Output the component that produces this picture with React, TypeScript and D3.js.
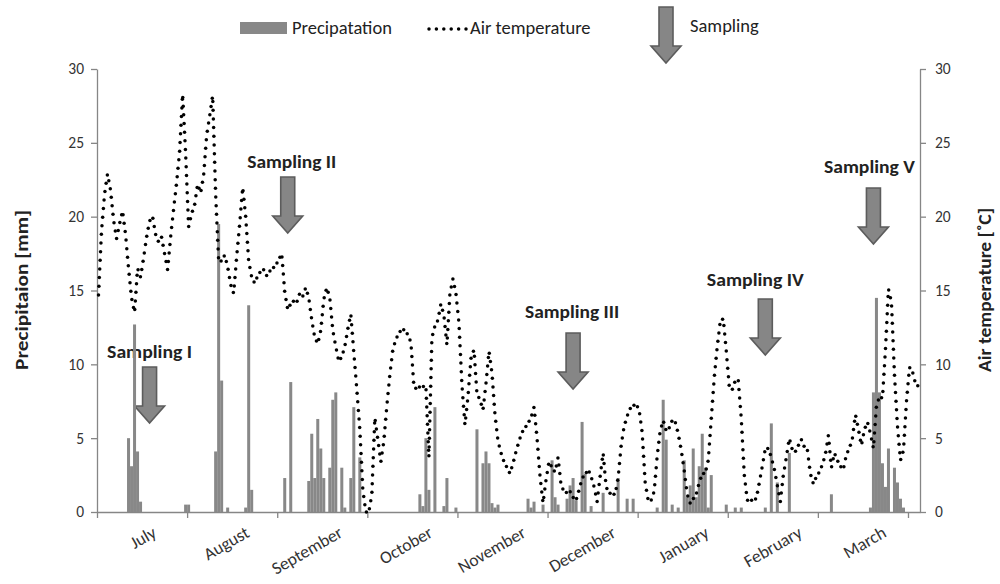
import React, { useEffect, useRef } from 'react';
import * as d3 from 'd3';

// Daily series, July -> end of March (one value per day)
const months = ['July', 'August', 'September', 'October', 'November', 'December', 'January', 'February', 'March'];
// day index of the 15th of each month, where its label sits
const monthMidDay = [14, 45, 76, 106, 137, 167, 198, 229, 257];

const airTemp = [
  14.7, 19.0, 21.5, 22.9, 21.8, 19.8, 18.5, 19.5, 20.4, 18.8,
  16.5, 14.5, 13.5, 16.5, 15.9, 17.2, 18.6, 19.7, 20.0, 18.8,
  18.3, 18.6, 17.5, 16.4, 18.6, 20.5, 22.3, 24.4, 28.3, 24.3,
  19.3, 20.2, 20.8, 22.2, 21.6, 22.8, 25.5, 26.8, 28.2, 21.5,
  17.0, 17.0, 17.4, 16.6, 15.4, 14.8, 17.3, 19.5, 22.0, 20.0,
  17.0, 15.9, 15.5, 16.0, 16.3, 16.4, 16.0, 16.3, 16.5, 16.7,
  17.1, 17.5, 14.9, 13.7, 14.1, 14.3, 14.2, 14.8, 14.6, 15.2,
  14.5, 13.0, 11.8, 11.4, 12.3, 14.4, 15.2, 14.5, 12.3, 11.2,
  10.2, 10.5, 11.2, 12.4, 13.4, 10.8, 8.3, 5.6, 1.5, 0.0,
  0.0, 1.2, 6.4, 4.9, 3.4, 4.8, 7.2, 9.3, 11.0, 11.7,
  12.1, 12.4, 12.3, 12.0, 11.5, 8.5, 8.3, 8.5, 8.5, 8.5,
  3.7, 11.8, 12.6, 13.0, 14.1, 13.3, 11.3, 14.8, 15.8, 14.8,
  12.8, 8.6, 5.9, 7.8, 10.4, 11.0, 8.0, 7.6, 6.9, 8.7,
  10.9, 9.4, 6.6, 4.8, 4.0, 3.4, 3.0, 2.6, 3.3, 4.1,
  4.8, 5.4, 5.7, 6.0, 6.4, 7.1, 5.0, 2.4, 0.6, 2.2,
  3.4, 3.0, 2.7, 3.7, 1.8, 1.4, 1.3, 1.4, 1.0, 0.8,
  1.5, 2.3, 2.5, 2.9, 2.4, 1.7, 0.7, 2.4, 4.0, 1.7,
  1.3, 1.2, 1.2, 2.3, 4.5, 5.8, 6.5, 7.0, 7.2, 7.3,
  6.9, 5.4, 2.0, 0.8, 0.8, 1.4, 3.8, 5.5, 6.2, 5.5,
  5.7, 6.2, 6.1, 5.3, 4.2, 2.8, 1.2, 0.6, 0.9, 1.2,
  2.0, 2.6, 2.6, 3.5, 6.3, 9.1, 11.2, 12.9, 13.1, 10.9,
  8.5, 8.3, 8.9, 8.9, 6.3, 2.5, 0.8, 0.8, 0.8, 0.9,
  2.0, 3.1, 4.3, 4.3, 3.7, 2.9, 1.8, 0.7, 2.5, 3.7,
  5.0, 4.2, 4.1, 4.5, 4.9, 4.4, 4.2, 2.6, 1.9, 2.4,
  2.7, 3.2, 3.9, 5.2, 3.0, 4.0, 3.5, 3.1, 2.9, 3.9,
  4.3, 5.0, 6.6, 5.6, 4.5, 5.6, 6.1, 5.3, 4.3, 7.2,
  7.8, 7.7, 11.0, 15.1, 14.2, 9.3, 5.8, 3.5, 4.2, 7.5,
  9.8, 9.5, 8.7, 8.5,
];

// rainy days only (day index from 1 July) and the amount in mm
const rainDay = [
  10, 11, 12, 13, 14, 29, 30, 39, 40, 41, 43, 49, 50, 51,
  62, 64, 70, 71, 72, 73, 74, 75, 77, 78, 79, 81, 82, 84, 85, 87,
  107, 108, 109, 110, 112, 115, 116, 119,
  126, 128, 129, 130, 131, 132, 133, 143, 144, 145, 148,
  151, 152, 153, 156, 157, 158, 159, 161, 162, 164, 168, 173, 176, 178,
  186, 188, 189, 191, 193, 195, 196, 197, 198, 199, 200, 201, 202, 203, 204,
  209, 212, 214, 222, 224, 226, 230, 244,
  257, 258, 259, 260, 261, 262, 263, 265, 266, 267, 268,
];
const rainMm = [
  5.0, 3.1, 12.7, 4.1, 0.7, 0.5, 0.5, 4.1, 19.5, 8.9, 0.3, 0.3, 14.0, 1.5,
  2.3, 8.8, 2.1, 5.3, 2.3, 6.3, 4.3, 2.3, 3.0, 7.6, 8.1, 3.0, 0.3, 2.3, 7.1, 3.7,
  1.2, 0.4, 5.0, 1.5, 7.1, 0.4, 2.3, 0.3,
  5.6, 3.3, 4.1, 3.3, 0.6, 0.3, 0.5, 0.9, 0.3, 0.7, 0.5,
  3.5, 1.0, 0.5, 0.9, 1.8, 2.3, 0.8, 6.1, 2.6, 0.4, 1.3, 2.3, 0.9, 0.9,
  0.3, 7.6, 4.9, 0.5, 0.3, 3.5, 1.0, 1.8, 4.3, 1.0, 3.1, 5.3, 3.0, 0.3, 2.5,
  0.5, 0.3, 0.3, 0.3, 6.0, 2.0, 4.0, 1.2,
  0.3, 8.1, 14.5, 8.1, 3.3, 1.7, 4.3, 3.0, 2.0, 0.9, 0.3,
];

const samplingLabel = ['Sampling I', 'Sampling II', 'Sampling III', 'Sampling IV', 'Sampling V'];
const samplingDay = [17, 63, 158, 222, 258];
const yTicks = [0, 5, 10, 15, 20, 25, 30];

// where each call-out sits (arrow top, label baseline, label shift, label width)
const calloutLayout = [
  { top: 367, labelY: 358, dx: 0, w: 85 },
  { top: 177, labelY: 168, dx: 4, w: 89 },
  { top: 333, labelY: 318, dx: -1, w: 94 },
  { top: 299, labelY: 286, dx: -10, w: 97 },
  { top: 188, labelY: 173, dx: -4, w: 91 },
];

const FONT = 'Carlito, Calibri, Lato, sans-serif';
const AXIS = '#868686';
const BAR = '#888888';

// down arrow, same shape as the Excel block arrow
function arrowPath(cx: number, top: number) {
  const p = d3.path();
  p.moveTo(cx - 7, top);
  p.lineTo(cx + 7, top);
  p.lineTo(cx + 7, top + 39);
  p.lineTo(cx + 15, top + 39);
  p.lineTo(cx, top + 56);
  p.lineTo(cx - 15, top + 39);
  p.lineTo(cx - 7, top + 39);
  p.closePath();
  return p.toString();
}

// spread dots evenly along a polyline; sx squeezes the horizontal spacing
function dotsAlong(pts: [number, number][], sx: number, step: number) {
  const out: [number, number][] = [pts[0]];
  let need = step;
  for (let k = 1; k < pts.length; k++) {
    const [x0, y0] = pts[k - 1];
    const [x1, y1] = pts[k];
    const seg = Math.hypot((x1 - x0) / sx, y1 - y0);
    let pos = 0;
    while (seg - pos >= need) {
      pos += need;
      const f = pos / seg;
      out.push([x0 + (x1 - x0) * f, y0 + (y1 - y0) * f]);
      need = step;
    }
    need -= seg - pos;
  }
  return out;
}

export default function App() {
  const svgRef = useRef<SVGSVGElement>(null);

  useEffect(() => {
    if (!svgRef.current) return;
    const svg = d3.select(svgRef.current);
    svg.selectAll('*').remove();

    const n = airTemp.length;
    const x = d3.scaleBand<number>().domain(d3.range(n)).range([97, 920]).padding(0);
    const xDay = d3.scaleLinear().domain([0, n]).range([97, 920]);
    const y = d3.scaleLinear().domain([0, 30]).range([512, 69]);
    const bw = x.bandwidth();

    // sampling call-outs
    const callouts = svg.append('g');
    samplingDay.forEach((d, i) => {
      const L = calloutLayout[i];
      const cx = (x(d) as number) + bw / 2;
      callouts.append('text')
        .attr('x', cx + L.dx)
        .attr('y', L.labelY)
        .attr('text-anchor', 'middle')
        .attr('font-family', FONT)
        .attr('font-weight', 700)
        .attr('font-size', 17)
        .attr('textLength', L.w)
        .attr('lengthAdjust', 'spacingAndGlyphs')
        .attr('fill', '#222')
        .text(samplingLabel[i]);
      callouts.append('path')
        .attr('d', arrowPath(cx, L.top))
        .attr('fill', '#868686')
        .attr('stroke', '#5c5c5c')
        .attr('stroke-width', 1.6);
    });

    // precipitation bars
    svg.append('g')
      .selectAll('rect')
      .data(rainDay.map((d, i) => ({ d, v: rainMm[i] })))
      .enter()
      .append('rect')
      .attr('x', r => x(r.d) as number)
      .attr('width', bw)
      .attr('y', r => y(r.v))
      .attr('height', r => y(0) - y(r.v))
      .attr('fill', BAR);

    // axes
    const styleAxis = (g: d3.Selection<SVGGElement, unknown, null, undefined>) => {
      g.attr('font-family', FONT).attr('font-size', 15.5);
      g.select('.domain').attr('stroke', AXIS).attr('stroke-width', 1.3);
      g.selectAll('.tick line').attr('stroke', AXIS).attr('stroke-width', 1.3);
      g.selectAll('.tick text').attr('fill', '#333');
    };

    svg.append('g')
      .attr('transform', 'translate(97,0)')
      .call(d3.axisLeft(y).tickValues(yTicks).tickSize(6).tickSizeOuter(0).tickPadding(7))
      .call(styleAxis);

    svg.append('g')
      .attr('transform', 'translate(920,0)')
      .call(d3.axisRight(y).tickValues(yTicks).tickSize(6).tickSizeOuter(0).tickPadding(9))
      .call(styleAxis);

    svg.append('g')
      .attr('transform', 'translate(0,512)')
      .call(d3.axisBottom(xDay).tickValues(d3.range(0, n, 30)).tickSize(6).tickSizeOuter(0).tickFormat(() => ''))
      .call(styleAxis);

    // month labels, rotated like the Excel category axis
    svg.append('g')
      .selectAll('text')
      .data(months)
      .enter()
      .append('text')
      .attr('text-anchor', 'end')
      .attr('font-family', FONT)
      .attr('font-size', 17.5)
      .attr('fill', '#333')
      .attr('transform', (m, i) => `translate(${(x(monthMidDay[i]) as number) + bw / 2 + 17},536) rotate(-30)`)
      .text(m => m);

    // air temperature, drawn as a round-dot line
    const pts: [number, number][] = airTemp.map((t, i) => [(x(i) as number) + bw / 2, y(t)]);
    svg.append('g')
      .selectAll('circle')
      .data(dotsAlong(pts, 0.46, 8.7))
      .enter()
      .append('circle')
      .attr('cx', p => p[0])
      .attr('cy', p => p[1])
      .attr('r', 1.75)
      .attr('fill', '#000');

    // axis titles
    svg.append('text')
      .attr('transform', 'translate(28,290) rotate(-90)')
      .attr('text-anchor', 'middle')
      .attr('font-family', FONT)
      .attr('font-weight', 700)
      .attr('font-size', 17)
      .attr('textLength', 160)
      .attr('lengthAdjust', 'spacingAndGlyphs')
      .attr('fill', '#222')
      .text('Precipitaion [mm]');

    svg.append('text')
      .attr('transform', 'translate(991,290) rotate(-90)')
      .attr('text-anchor', 'middle')
      .attr('font-family', FONT)
      .attr('font-weight', 700)
      .attr('font-size', 17)
      .attr('textLength', 164)
      .attr('lengthAdjust', 'spacingAndGlyphs')
      .attr('fill', '#222')
      .text('Air temperature [˚C]');

    // legend
    const lg = svg.append('g').attr('font-family', FONT).attr('font-size', 18.5).attr('fill', '#222');
    lg.append('rect').attr('x', 240).attr('y', 22).attr('width', 47).attr('height', 12).attr('fill', BAR);
    lg.append('text').attr('x', 292).attr('y', 34).text('Precipatation');
    lg.selectAll('circle')
      .data(d3.range(6))
      .enter()
      .append('circle')
      .attr('cx', k => 429 + k * 7.4)
      .attr('cy', 29)
      .attr('r', 1.75)
      .attr('fill', '#000');
    lg.append('text').attr('x', 470).attr('y', 34).text('Air temperature');
    lg.append('path')
      .attr('d', arrowPath(666, 7))
      .attr('fill', '#868686')
      .attr('stroke', '#5c5c5c')
      .attr('stroke-width', 1.6);
    lg.append('text').attr('x', 690).attr('y', 32).text('Sampling');
  }, []);

  return (
    <div style={{ position: 'absolute', left: 0, top: 0, background: '#fff' }}>
      <svg ref={svgRef} width={1000} height={584} />
    </div>
  );
}
